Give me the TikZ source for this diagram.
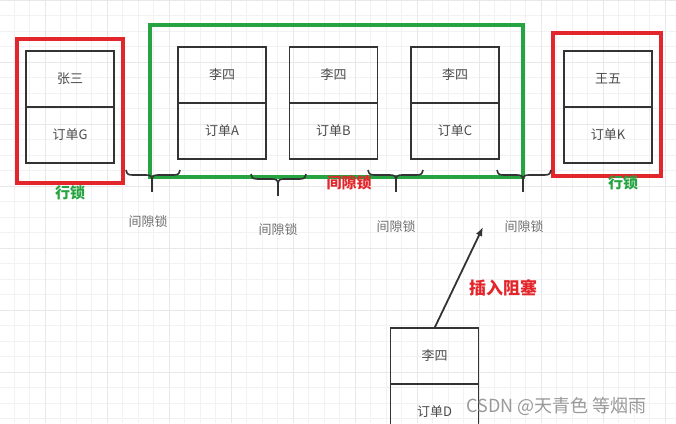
\documentclass[tikz,border=0pt]{standalone}
\usepackage{fontspec}
\setmainfont{Noto Sans CJK SC}
\usepackage{xcolor}
\usepackage{tikz}
\usetikzlibrary{positioning}
\usetikzlibrary{arrows.meta}

\definecolor{lockred}{HTML}{E3262B}
\definecolor{lockgreen}{HTML}{25A441}
\definecolor{boxline}{HTML}{333333}
\definecolor{boxtext}{HTML}{4A4A4A}

\tikzset{
    cell/.style={draw=boxline, line width=1.8pt, minimum width=88pt, minimum height=56pt,
        inner sep=0pt, outer sep=0pt, text=boxtext, font=\fontsize{13}{15}\selectfont},
    gaplabel/.style={text=boxtext!80, font=\fontsize{13}{15}\selectfont},
    rowlock/.style={text=lockgreen, font=\fontsize{15}{17}\selectfont\bfseries},
}

\begin{document}
\begin{tikzpicture}[x=1pt, y=-1pt, node distance=0pt]
    \useasboundingbox (0,0) rectangle (676,423);
    % Grid
    \begin{scope}
    \clip (0,0) rectangle (676,423);
    \draw [black!5, line width=0.8pt, step=15.5pt, xshift=14pt] (-14,0) grid (676,423);
    \draw [black!9, line width=1pt, step=62pt, xshift=45pt] (-45,0) grid (676,423);
    \end{scope}
    % Boxes
    \node [cell] (zhang) at (70,79) {张三};
    \node [cell, below=of zhang] (orderG) {订单G};
    \node [cell] (liA) at (222,75) {李四};
    \node [cell, below=of liA] (orderA) {订单A};
    \node [cell] (liB) at (333.5,75) {李四};
    \node [cell, below=of liB] (orderB) {订单B};
    \node [cell] (liC) at (455,75) {李四};
    \node [cell, below=of liC] (orderC) {订单C};
    \node [cell] (wang) at (608,79) {王五};
    \node [cell, below=of wang] (orderK) {订单K};
    \node [cell] (liD) at (434.5,356) {李四};
    \node [cell, below=of liD] (orderD) {订单D};
    % Frames
    \draw [lockred, line width=4pt] (17,39) rectangle (123,183);
    \draw [lockred, line width=4pt] (553,33) rectangle (661,176);
    \draw [lockgreen, line width=3.5pt] (150,25) rectangle (523,177);
    % Braces
    \foreach \l/\m/\r/\t in {126/152/180/170, 251/278/306/174, 368/396/423/170, 497/523/551/170}
    {
    \draw [boxline, line width=1.6pt]
        (\l,\t) .. controls (\l+1,\t+5) and (\l+3,\t+5) .. (\l+8,\t+5)
        -- (\m-6,\t+5) .. controls (\m-2,\t+5) and (\m,\t+6) .. (\m,\t+10)
        .. controls (\m,\t+6) and (\m+2,\t+5) .. (\m+6,\t+5)
        -- (\r-8,\t+5) .. controls (\r-3,\t+5) and (\r-1,\t+5) .. (\r,\t);
    \draw [boxline, line width=1.6pt] (\m,\t+10) -- (\m,\t+22);
    }
    % Labels
    \node [gaplabel] (gap1) at (148,222) {间隙锁};
    \node [gaplabel] (gap2) at (278,230) {间隙锁};
    \node [gaplabel] (gap3) at (396,227) {间隙锁};
    \node [gaplabel] (gap4) at (524,227) {间隙锁};
    \node [rowlock] (rowG) at (70,193) {行锁};
    \node [rowlock] (rowK) at (623,183) {行锁};
    \node [text=lockred, font=\fontsize{15}{17}\selectfont\bfseries] (gapmid) at (349,183) {间隙锁};
    % Insert arrow
    \coordinate (target) at (483,227);
    \draw [-{Latex[length=9pt,width=7pt]}, boxline, line width=1.8pt] (liD.north) -- (target);
    \node [text=lockred, font=\fontsize{17}{19}\selectfont\bfseries] (block) at (503,288) {插入阻塞};
    % Watermark
    \node [anchor=west, text=black!40, font=\fontsize{18}{20}\selectfont] (mark) at (463,406) {CSDN @天青色 等烟雨};
\end{tikzpicture}
\end{document}
